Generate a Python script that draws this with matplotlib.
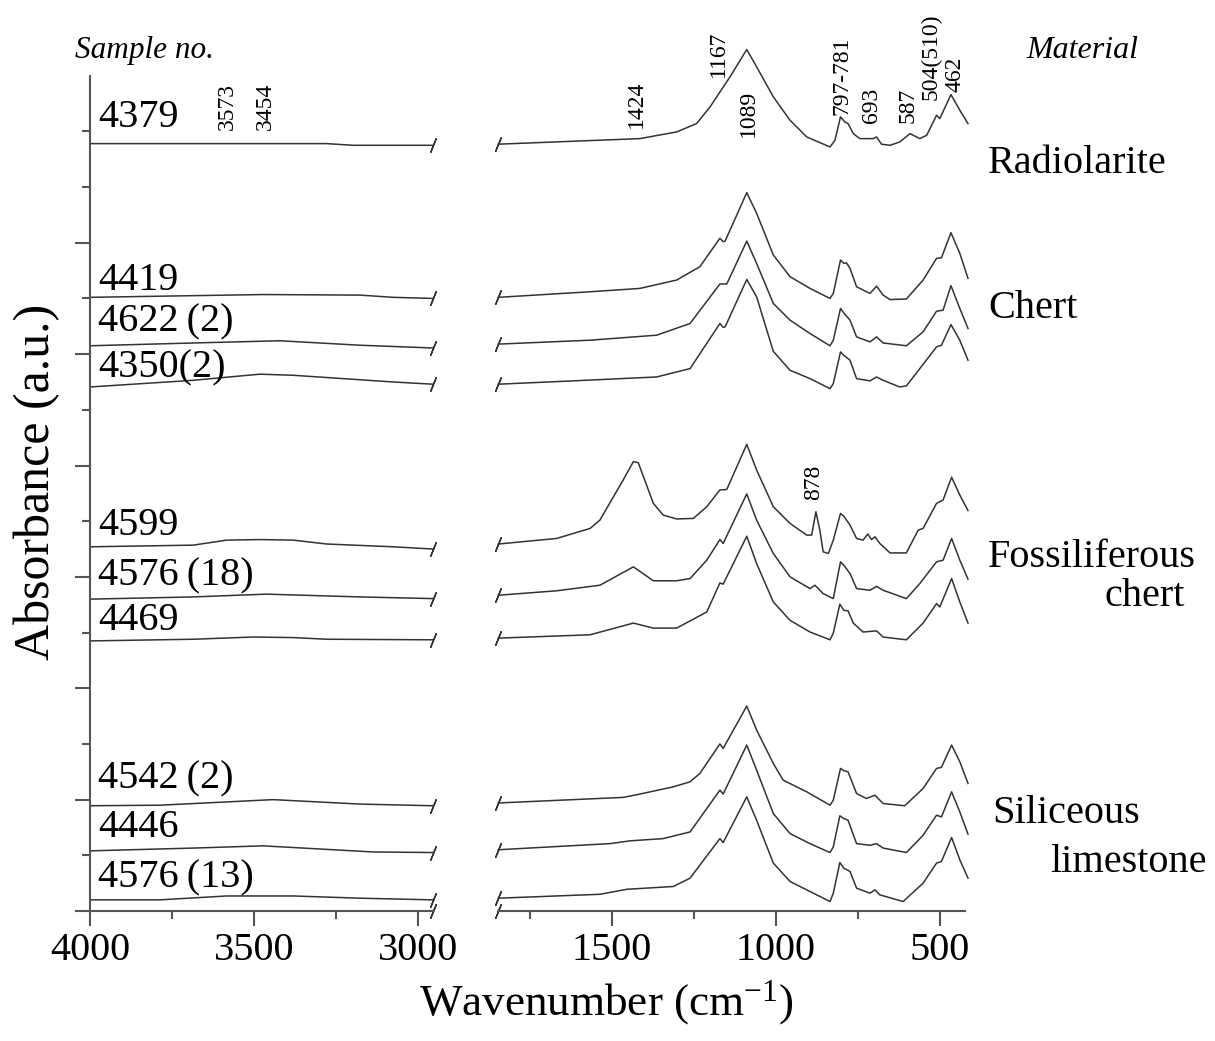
# FTIR spectra of siliceous rocks, broken wavenumber axis

import matplotlib
matplotlib.use('Agg')
import matplotlib.pyplot as plt
from matplotlib.ticker import FixedLocator, NullFormatter

plt.rcParams['font.family'] = ['Liberation Serif', 'DejaVu Serif']
plt.rcParams['mathtext.fontset'] = 'custom'
plt.rcParams['mathtext.rm'] = 'Liberation Serif'
plt.rcParams['mathtext.default'] = 'rm'

# ---- data (absorbance in arbitrary, offset units) ----
samples = ['4379', '4419', '4622\u2009(2)', '4350(2)', '4599', '4576\u2009(18)',
           '4469', '4542\u2009(2)', '4446', '4576\u2009(13)']
label_y = [14.08, 11.15, 10.40, 9.59, 6.75, 5.85, 5.04, 2.21, 1.33, 0.43]

# high wavenumber region (4000 - 2954)
l4379_wn = [4000, 3278, 3197, 2954]
l4379_a = [13.78, 13.78, 13.75, 13.75]
l4419_wn = [4000, 3472, 3177, 3076, 2954]
l4419_a = [11.02, 11.07, 11.06, 11.02, 11.00]
l4622_wn = [4000, 3686, 3421, 3177, 2954]
l4622_a = [10.15, 10.20, 10.24, 10.16, 10.11]
l4350_wn = [4000, 3685, 3482, 3380, 3076, 2954]
l4350_a = [9.41, 9.53, 9.64, 9.62, 9.50, 9.46]
l4599_wn = [4000, 3685, 3583, 3482, 3380, 3278, 3075, 2954]
l4599_a = [6.54, 6.57, 6.66, 6.67, 6.66, 6.59, 6.54, 6.50]
l4576_18_wn = [4000, 3685, 3462, 3177, 2954]
l4576_18_a = [5.60, 5.64, 5.69, 5.64, 5.61]
l4469_wn = [4000, 3685, 3502, 3380, 3278, 2954]
l4469_a = [4.85, 4.88, 4.92, 4.91, 4.88, 4.87]
l4542_wn = [4000, 3787, 3441, 3177, 2954]
l4542_a = [1.89, 1.90, 2.00, 1.92, 1.89]
l4446_wn = [4000, 3685, 3472, 3136, 2954]
l4446_a = [1.08, 1.13, 1.17, 1.06, 1.05]
l4576_13_wn = [4000, 3787, 3583, 3380, 3177, 2954]
l4576_13_a = [0.20, 0.20, 0.27, 0.27, 0.23, 0.20]

# fingerprint region (1848 - 414)
r4379_wn = [1847, 1415, 1303, 1242, 1201, 1140, 1089, 1059, 1008, 957, 906, 835, 820, 803,
            790, 780, 764, 744, 703, 693, 678, 652, 622, 591, 561, 540, 510, 500, 466, 439, 414]
r4379_a = [13.77, 13.87, 13.99, 14.14, 14.44, 14.98, 15.47, 15.16, 14.62, 14.20, 13.90, 13.72,
           13.84, 14.26, 14.17, 14.14, 13.96, 13.87, 13.87, 13.90, 13.77, 13.75, 13.81, 13.96,
           13.87, 13.93, 14.29, 14.23, 14.66, 14.38, 14.14]
r4419_wn = [1847, 1567, 1415, 1303, 1232, 1171, 1161, 1155, 1089, 1059, 1008, 957, 896, 835,
            825, 803, 793, 785, 774, 754, 713, 693, 673, 652, 602, 551, 510, 495, 466, 439, 414]
r4419_a = [11.02, 11.12, 11.18, 11.33, 11.57, 12.08, 12.02, 12.03, 12.90, 12.53, 11.78, 11.39,
           11.18, 11.00, 11.09, 11.69, 11.63, 11.64, 11.54, 11.21, 11.09, 11.22, 11.06, 10.98,
           10.99, 11.33, 11.72, 11.73, 12.18, 11.81, 11.36]
r4622_wn = [1847, 1567, 1364, 1262, 1171, 1150, 1089, 1059, 1008, 957, 896, 835, 825, 803,
            793, 774, 754, 713, 693, 673, 602, 551, 510, 490, 466, 439, 414]
r4622_a = [10.18, 10.25, 10.34, 10.55, 11.26, 11.26, 12.03, 11.63, 10.91, 10.61, 10.37, 10.15,
           10.25, 10.82, 10.74, 10.61, 10.31, 10.22, 10.31, 10.20, 10.15, 10.40, 10.77, 10.79,
           11.23, 10.82, 10.46]
r4350_wn = [1847, 1618, 1364, 1262, 1171, 1161, 1155, 1089, 1059, 1008, 957, 896, 835, 825,
            803, 793, 774, 754, 713, 693, 673, 622, 602, 561, 510, 495, 466, 439, 414]
r4350_a = [9.46, 9.52, 9.59, 9.74, 10.55, 10.48, 10.49, 11.34, 11.03, 10.05, 9.71, 9.56, 9.38,
           9.47, 10.04, 9.98, 9.89, 9.56, 9.52, 9.59, 9.53, 9.41, 9.43, 9.74, 10.13, 10.16,
           10.53, 10.25, 9.89]
r4599_wn = [1847, 1669, 1567, 1537, 1466, 1435, 1420, 1374, 1344, 1303, 1252, 1211, 1171,
            1150, 1089, 1059, 1008, 957, 906, 891, 878, 866, 856, 840, 825, 803, 793, 774,
            754, 734, 720, 708, 698, 683, 652, 602, 566, 551, 510, 490, 464, 439, 414]
r4599_a = [6.59, 6.69, 6.87, 7.02, 7.74, 8.07, 8.05, 7.32, 7.11, 7.04, 7.05, 7.26, 7.56, 7.57,
           8.38, 7.92, 7.26, 6.96, 6.75, 6.75, 7.17, 6.84, 6.45, 6.42, 6.66, 7.14, 7.09, 6.93,
           6.69, 6.66, 6.77, 6.67, 6.72, 6.60, 6.43, 6.43, 6.84, 6.87, 7.32, 7.38, 7.79, 7.47,
           7.19]
r4576_18_wn = [1847, 1669, 1537, 1435, 1374, 1303, 1262, 1211, 1171, 1161, 1089, 1059, 1008,
               957, 896, 881, 856, 825, 803, 793, 774, 754, 713, 693, 673, 602, 561, 510,
               490, 464, 439, 414]
r4576_18_a = [5.67, 5.75, 5.85, 6.18, 5.93, 5.93, 5.97, 6.30, 6.67, 6.60, 7.49, 7.02, 6.42,
              6.00, 5.79, 5.85, 5.70, 5.61, 6.27, 6.21, 6.06, 5.79, 5.76, 5.83, 5.76, 5.61,
              5.88, 6.27, 6.30, 6.69, 6.30, 5.96]
r4469_wn = [1847, 1567, 1435, 1374, 1303, 1211, 1171, 1161, 1089, 1059, 1008, 957, 896, 835,
            825, 805, 793, 780, 764, 734, 693, 673, 602, 551, 510, 500, 464, 439, 414]
r4469_a = [4.90, 4.96, 5.17, 5.08, 5.08, 5.37, 5.89, 5.87, 6.73, 6.24, 5.55, 5.22, 5.01, 4.87,
           4.99, 5.51, 5.40, 5.39, 5.17, 5.01, 5.03, 4.92, 4.87, 5.17, 5.52, 5.46, 5.97, 5.55,
           5.17]
r4542_wn = [1847, 1466, 1415, 1313, 1262, 1232, 1171, 1161, 1089, 1059, 1008, 978, 906, 835,
            825, 803, 793, 780, 754, 724, 698, 673, 607, 551, 510, 495, 464, 439, 414]
r4542_a = [1.94, 2.04, 2.10, 2.23, 2.32, 2.47, 3.00, 2.92, 3.68, 3.25, 2.65, 2.35, 2.14, 1.90,
           1.99, 2.56, 2.52, 2.50, 2.11, 2.02, 2.08, 1.93, 1.89, 2.20, 2.56, 2.58, 2.98, 2.68,
           2.29]
r4446_wn = [1847, 1506, 1445, 1344, 1262, 1171, 1161, 1089, 1059, 1008, 957, 896, 835, 825,
            805, 793, 780, 754, 713, 693, 673, 602, 551, 510, 495, 464, 439, 414]
r4446_a = [1.10, 1.21, 1.26, 1.30, 1.42, 2.17, 2.10, 2.98, 2.53, 1.75, 1.39, 1.21, 1.05, 1.15,
           1.71, 1.66, 1.63, 1.21, 1.18, 1.21, 1.13, 1.05, 1.36, 1.72, 1.69, 2.14, 1.78, 1.38]
r4576_13_wn = [1847, 1537, 1455, 1313, 1262, 1171, 1161, 1089, 1059, 1008, 957, 896, 835,
               825, 805, 793, 774, 754, 713, 698, 683, 612, 551, 510, 495, 464, 439, 414]
r4576_13_a = [0.23, 0.30, 0.39, 0.44, 0.59, 1.30, 1.23, 2.05, 1.63, 0.86, 0.53, 0.35, 0.17,
              0.32, 0.87, 0.77, 0.71, 0.41, 0.32, 0.38, 0.29, 0.17, 0.50, 0.86, 0.89, 1.32,
              0.92, 0.59]

left_series = [(l4379_wn, l4379_a), (l4419_wn, l4419_a), (l4622_wn, l4622_a),
               (l4350_wn, l4350_a), (l4599_wn, l4599_a), (l4576_18_wn, l4576_18_a),
               (l4469_wn, l4469_a), (l4542_wn, l4542_a), (l4446_wn, l4446_a),
               (l4576_13_wn, l4576_13_a)]
right_series = [(r4379_wn, r4379_a), (r4419_wn, r4419_a), (r4622_wn, r4622_a),
                (r4350_wn, r4350_a), (r4599_wn, r4599_a), (r4576_18_wn, r4576_18_a),
                (r4469_wn, r4469_a), (r4542_wn, r4542_a), (r4446_wn, r4446_a),
                (r4576_13_wn, r4576_13_a)]

# band assignments: (text, x position, bottom y)
left_bands = [('3573', 3582, 14.02), ('3454', 3466, 14.02)]
right_bands = [('1424', 1427, 14.06), ('1167', 1174, 14.97), ('1089', 1085, 13.90),
               ('797-781', 799, 14.29), ('693', 707, 14.15), ('587', 598, 14.15),
               ('504(510)', 527, 14.56), ('462', 454, 14.70), ('878', 884, 7.38)]

materials = ['Radiolarite', 'Chert', 'Fossiliferous', 'chert', 'Siliceous', 'limestone']
material_xy = [(988, 173), (988, 318), (988, 567), (1105, 606), (992, 823), (1050, 872)]

# ---- figure ----
W, H = 1215, 1041
fig = plt.figure(figsize=(W / 100, H / 100), dpi=100)

ybot = 1 - 911 / H
yh = 891 / H
ax1 = fig.add_axes([90 / W, ybot, 343 / W, yh])
ax2 = fig.add_axes([498 / W, ybot, 470 / W, yh])

line_c = '#333333'
axis_c = '#555555'
slash = (2, 2, -22)

ax1.set_xlim(4000, 2954)
ax2.set_xlim(1848, 414)
for ax in (ax1, ax2):
    ax.set_ylim(0, 16)
    ax.patch.set_alpha(0)
    for s in ('top', 'right'):
        ax.spines[s].set_visible(False)
    ax.spines['bottom'].set_color(axis_c)
    ax.spines['bottom'].set_linewidth(1.5)
    ax.tick_params(axis='x', which='major', direction='out', length=11, width=1.5,
                   color=axis_c, labelsize=29, pad=4)
    ax.tick_params(axis='x', which='minor', direction='out', length=6, width=1.5,
                   color=axis_c)

ax1.spines['left'].set_color(axis_c)
ax1.spines['left'].set_linewidth(1.5)
ax1.spines['left'].set_bounds(0, 15)
ax1.yaxis.set_major_locator(FixedLocator([0, 2, 4, 6, 8, 10, 12]))
ax1.yaxis.set_minor_locator(FixedLocator([1, 3, 5, 7, 9, 11, 13, 14]))
ax1.yaxis.set_major_formatter(NullFormatter())
ax1.tick_params(axis='y', which='major', direction='out', length=11, width=1.5, color=axis_c)
ax1.tick_params(axis='y', which='minor', direction='out', length=6, width=1.5, color=axis_c)
ax1.set_xticks([4000, 3500, 3000])
ax1.set_xticks([3750, 3250], minor=True)

ax2.spines['left'].set_visible(False)
ax2.set_yticks([])
ax2.spines['bottom'].set_bounds(1848, 424)
ax2.set_xticks([1500, 1000, 500])
ax2.set_xticks([1750, 1250, 750], minor=True)

for wn, a in left_series:
    ax1.plot(wn, a, color=line_c, lw=1.1, clip_on=False)
    ax1.plot(wn[-1], a[-1], marker=slash, ms=11, mew=1.0, color=line_c, clip_on=False)
for wn, a in right_series:
    ax2.plot(wn, a, color=line_c, lw=1.1, clip_on=False)
    ax2.plot(wn[0], a[0], marker=slash, ms=11, mew=1.0, color=line_c, clip_on=False)

# break marks on the wavenumber axis
ax1.plot(2954, 0, marker=slash, ms=11, mew=1.0, color=line_c, clip_on=False)
ax2.plot(1848, 0, marker=slash, ms=11, mew=1.0, color=line_c, clip_on=False)

for name, y in zip(samples, label_y):
    ax1.text(3975, y, name, fontsize=29, ha='left', va='baseline')

for txt, x, y in left_bands:
    ax1.text(x, y, txt, fontsize=17, rotation=90, ha='center', va='bottom')
for txt, x, y in right_bands:
    ax2.text(x, y, txt, fontsize=17, rotation=90, ha='center', va='bottom')

for name, (px, py) in zip(materials, material_xy):
    fig.text(px / W, 1 - py / H, name, fontsize=29, ha='left', va='baseline')

fig.text(75 / W, 1 - 58 / H, 'Sample no.', fontsize=22.5, style='italic',
         ha='left', va='baseline')
fig.text(1026 / W, 1 - 58 / H, 'Material', fontsize=23, style='italic',
         ha='left', va='baseline')
fig.text(606 / W, 1 - 1015 / H, 'Wavenumber (cm$^{-1}$)', fontsize=32.5,
         ha='center', va='baseline')
fig.text(37 / W, 1 - 482 / H, 'Absorbance (a.u.)', fontsize=36, rotation=90,
         ha='center', va='center')

fig.savefig('out.png', dpi=100)
